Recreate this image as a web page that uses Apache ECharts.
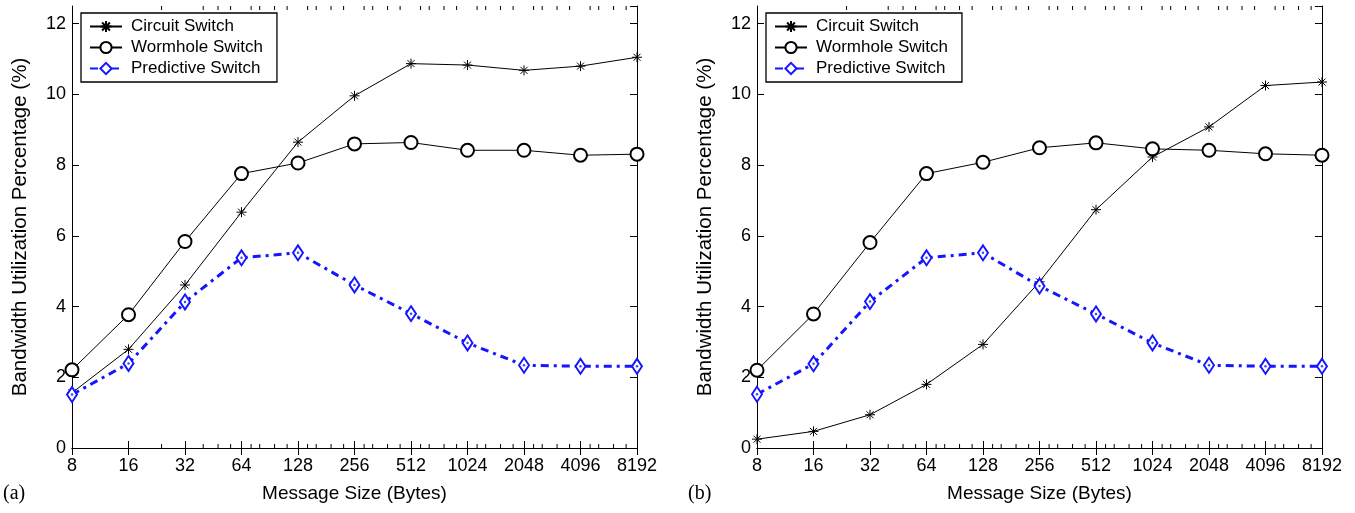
<!DOCTYPE html>
<html>
<head>
<meta charset="utf-8">
<script src="https://cdn.jsdelivr.net/npm/echarts@6/dist/echarts.min.js"></script>
<style>
html,body{margin:0;padding:0;background:#fff;}
#chart{width:1355px;height:513px;}
</style>
</head>
<body>
<div id="chart"></div>
<script>
// ---- data ----
const sizes = [8, 16, 32, 64, 128, 256, 512, 1024, 2048, 4096, 8192];
const circuitA = [1.56, 2.79, 4.61, 6.67, 8.65, 9.96, 10.87, 10.83, 10.68, 10.80, 11.05];
const wormholeA = [2.21, 3.77, 5.84, 7.76, 8.06, 8.60, 8.64, 8.42, 8.42, 8.28, 8.31];
const predictiveA = [1.51, 2.39, 4.13, 5.38, 5.52, 4.61, 3.80, 2.97, 2.34, 2.31, 2.31];
const circuitB = [0.25, 0.47, 0.94, 1.80, 2.93, 4.70, 6.74, 8.23, 9.08, 10.25, 10.35];
const wormholeB = [2.20, 3.79, 5.81, 7.76, 8.08, 8.49, 8.63, 8.46, 8.42, 8.32, 8.28];
const predictiveB = [1.52, 2.38, 4.14, 5.38, 5.52, 4.58, 3.79, 2.97, 2.34, 2.31, 2.31];
const minorTicks = [24, 40, 48, 56, 72, 80, 96, 112, 144, 160, 192, 224, 288, 320, 384, 448,
  576, 640, 768, 896, 1152, 1280, 1536, 1792, 2304, 2560, 3072, 3584, 4608, 5120, 6144, 7168];
const seriesNames = ['Circuit Switch', 'Wormhole Switch', 'Predictive Switch'];
const xTitle = 'Message Size (Bytes)';
const yTitle = 'Bandwidth Utilization Percentage (%)';
const panelLabels = ['(a)', '(b)'];

const FONT = 'Liberation Sans, Arial, Helvetica, sans-serif';
const Y_MAX = 12.5;
const starPath = 'path://M0,-5L0,5M-5,0L5,0M-3.5,-3.5L3.5,3.5M-3.5,3.5L3.5,-3.5';
const BLUE = '#1515ff';

const grids = [
  { left: 72, top: 6, width: 565, height: 442 },
  { left: 757, top: 6, width: 565, height: 442 }
];

const xAxes = [], yAxes = [], series = [], legends = [];
const panels = [[circuitA, wormholeA, predictiveA], [circuitB, wormholeB, predictiveB]];

function pts(arr) { return sizes.map((s, i) => [Math.log2(s), arr[i]]); }

panels.forEach((p, g) => {
  const xi = xAxes.length, yi = yAxes.length;
  xAxes.push({
    type: 'value', gridIndex: g, position: 'bottom', min: 3, max: 13, interval: 1,
    name: xTitle, nameLocation: 'middle', nameGap: 36,
    nameTextStyle: { fontFamily: FONT, fontSize: 19, color: '#000' },
    axisLine: { lineStyle: { color: '#000', width: 1 } },
    axisTick: { inside: true, length: 7, lineStyle: { color: '#000' } },
    axisLabel: { fontFamily: FONT, fontSize: 18, color: '#000', margin: 9,
      formatter: v => String(Math.round(Math.pow(2, v))) },
    splitLine: { show: false }
  });
  xAxes.push({
    type: 'value', gridIndex: g, position: 'top', min: 3, max: 13, interval: 1,
    axisLine: { lineStyle: { color: '#000', width: 1 } },
    axisTick: { inside: true, length: 7, lineStyle: { color: '#000' } },
    axisLabel: { show: false }, splitLine: { show: false }
  });
  yAxes.push({
    type: 'value', gridIndex: g, position: 'left', min: 0, max: Y_MAX, interval: 2,
    name: yTitle, nameLocation: 'middle', nameGap: 41, nameRotate: 90,
    nameTextStyle: { fontFamily: FONT, fontSize: 20.5, color: '#000' },
    axisLine: { lineStyle: { color: '#000', width: 1 } },
    axisTick: { inside: true, length: 7, lineStyle: { color: '#000' } },
    axisLabel: { fontFamily: FONT, fontSize: 18, color: '#000', margin: 6, showMaxLabel: false },
    splitLine: { show: false }
  });
  yAxes.push({
    type: 'value', gridIndex: g, position: 'right', min: 0, max: Y_MAX, interval: 2,
    axisLine: { lineStyle: { color: '#000', width: 1 } },
    axisTick: { inside: true, length: 7, lineStyle: { color: '#000' } },
    axisLabel: { show: false }, splitLine: { show: false }
  });

  // minor log ticks (bottom and top)
  series.push({
    name: 'minor' + g, type: 'custom', xAxisIndex: xi, yAxisIndex: yi, silent: true, clip: false,
    data: minorTicks.map(v => [Math.log2(v), 0]),
    renderItem: (params, api) => {
      const b = api.coord([api.value(0), 0]);
      const t = api.coord([api.value(0), Y_MAX]);
      return { type: 'group', children: [
        { type: 'line', shape: { x1: b[0], y1: b[1], x2: b[0], y2: b[1] - 4 }, style: { stroke: '#000', lineWidth: 1 } },
        { type: 'line', shape: { x1: t[0], y1: t[1], x2: t[0], y2: t[1] + 4 }, style: { stroke: '#000', lineWidth: 1 } }
      ]};
    }
  });

  series.push({
    name: seriesNames[0], type: 'line', xAxisIndex: xi, yAxisIndex: yi, data: pts(p[0]),
    symbol: starPath, symbolSize: 10, color: '#000',
    lineStyle: { color: '#000', width: 1 },
    itemStyle: { color: '#000', borderColor: '#000', borderWidth: 1 }, z: 3
  });
  series.push({
    name: seriesNames[1], type: 'line', xAxisIndex: xi, yAxisIndex: yi, data: pts(p[1]),
    symbol: 'emptyCircle', symbolSize: 13, color: '#000',
    lineStyle: { color: '#000', width: 1 },
    itemStyle: { color: '#000', borderColor: '#000', borderWidth: 0.8 }, z: 3
  });
  series.push({
    name: seriesNames[2], type: 'line', xAxisIndex: xi, yAxisIndex: yi, data: pts(p[2]),
    symbol: 'emptyDiamond', symbolSize: [10, 15], color: BLUE,
    lineStyle: { color: BLUE, width: 3, type: [8, 5, 3, 5] },
    itemStyle: { color: BLUE, borderColor: BLUE, borderWidth: 0.9 }, z: 4
  });
  // centre dot inside each diamond marker
  series.push({
    name: 'dots' + g, type: 'scatter', xAxisIndex: xi, yAxisIndex: yi, data: pts(p[2]),
    symbol: 'circle', symbolSize: 2.5, silent: true,
    itemStyle: { color: BLUE }, z: 5
  });

  legends.push({
    data: seriesNames, orient: 'vertical', left: grids[g].left + 9, top: 13,
    backgroundColor: '#fff', borderColor: '#000', borderWidth: 1.3, borderRadius: 0,
    padding: [5, 14, 5, 8], itemGap: 4, itemWidth: 32, itemHeight: 14,
    selectedMode: false,
    textStyle: { fontFamily: FONT, fontSize: 17, color: '#000', padding: [0, 0, 0, 4] }
  });
});

const chart = echarts.init(document.getElementById('chart'), null, { renderer: 'canvas' });
chart.setOption({
  animation: false,
  backgroundColor: '#fff',
  grid: grids,
  xAxis: xAxes,
  yAxis: yAxes,
  legend: legends,
  series: series,
  graphic: [
    { type: 'text', left: 3, top: 484, style: { text: panelLabels[0], font: '20px "Liberation Serif", "Times New Roman", serif', fill: '#000' } },
    { type: 'text', left: 688, top: 484, style: { text: panelLabels[1], font: '20px "Liberation Serif", "Times New Roman", serif', fill: '#000' } }
  ]
});
</script>
</body>
</html>
